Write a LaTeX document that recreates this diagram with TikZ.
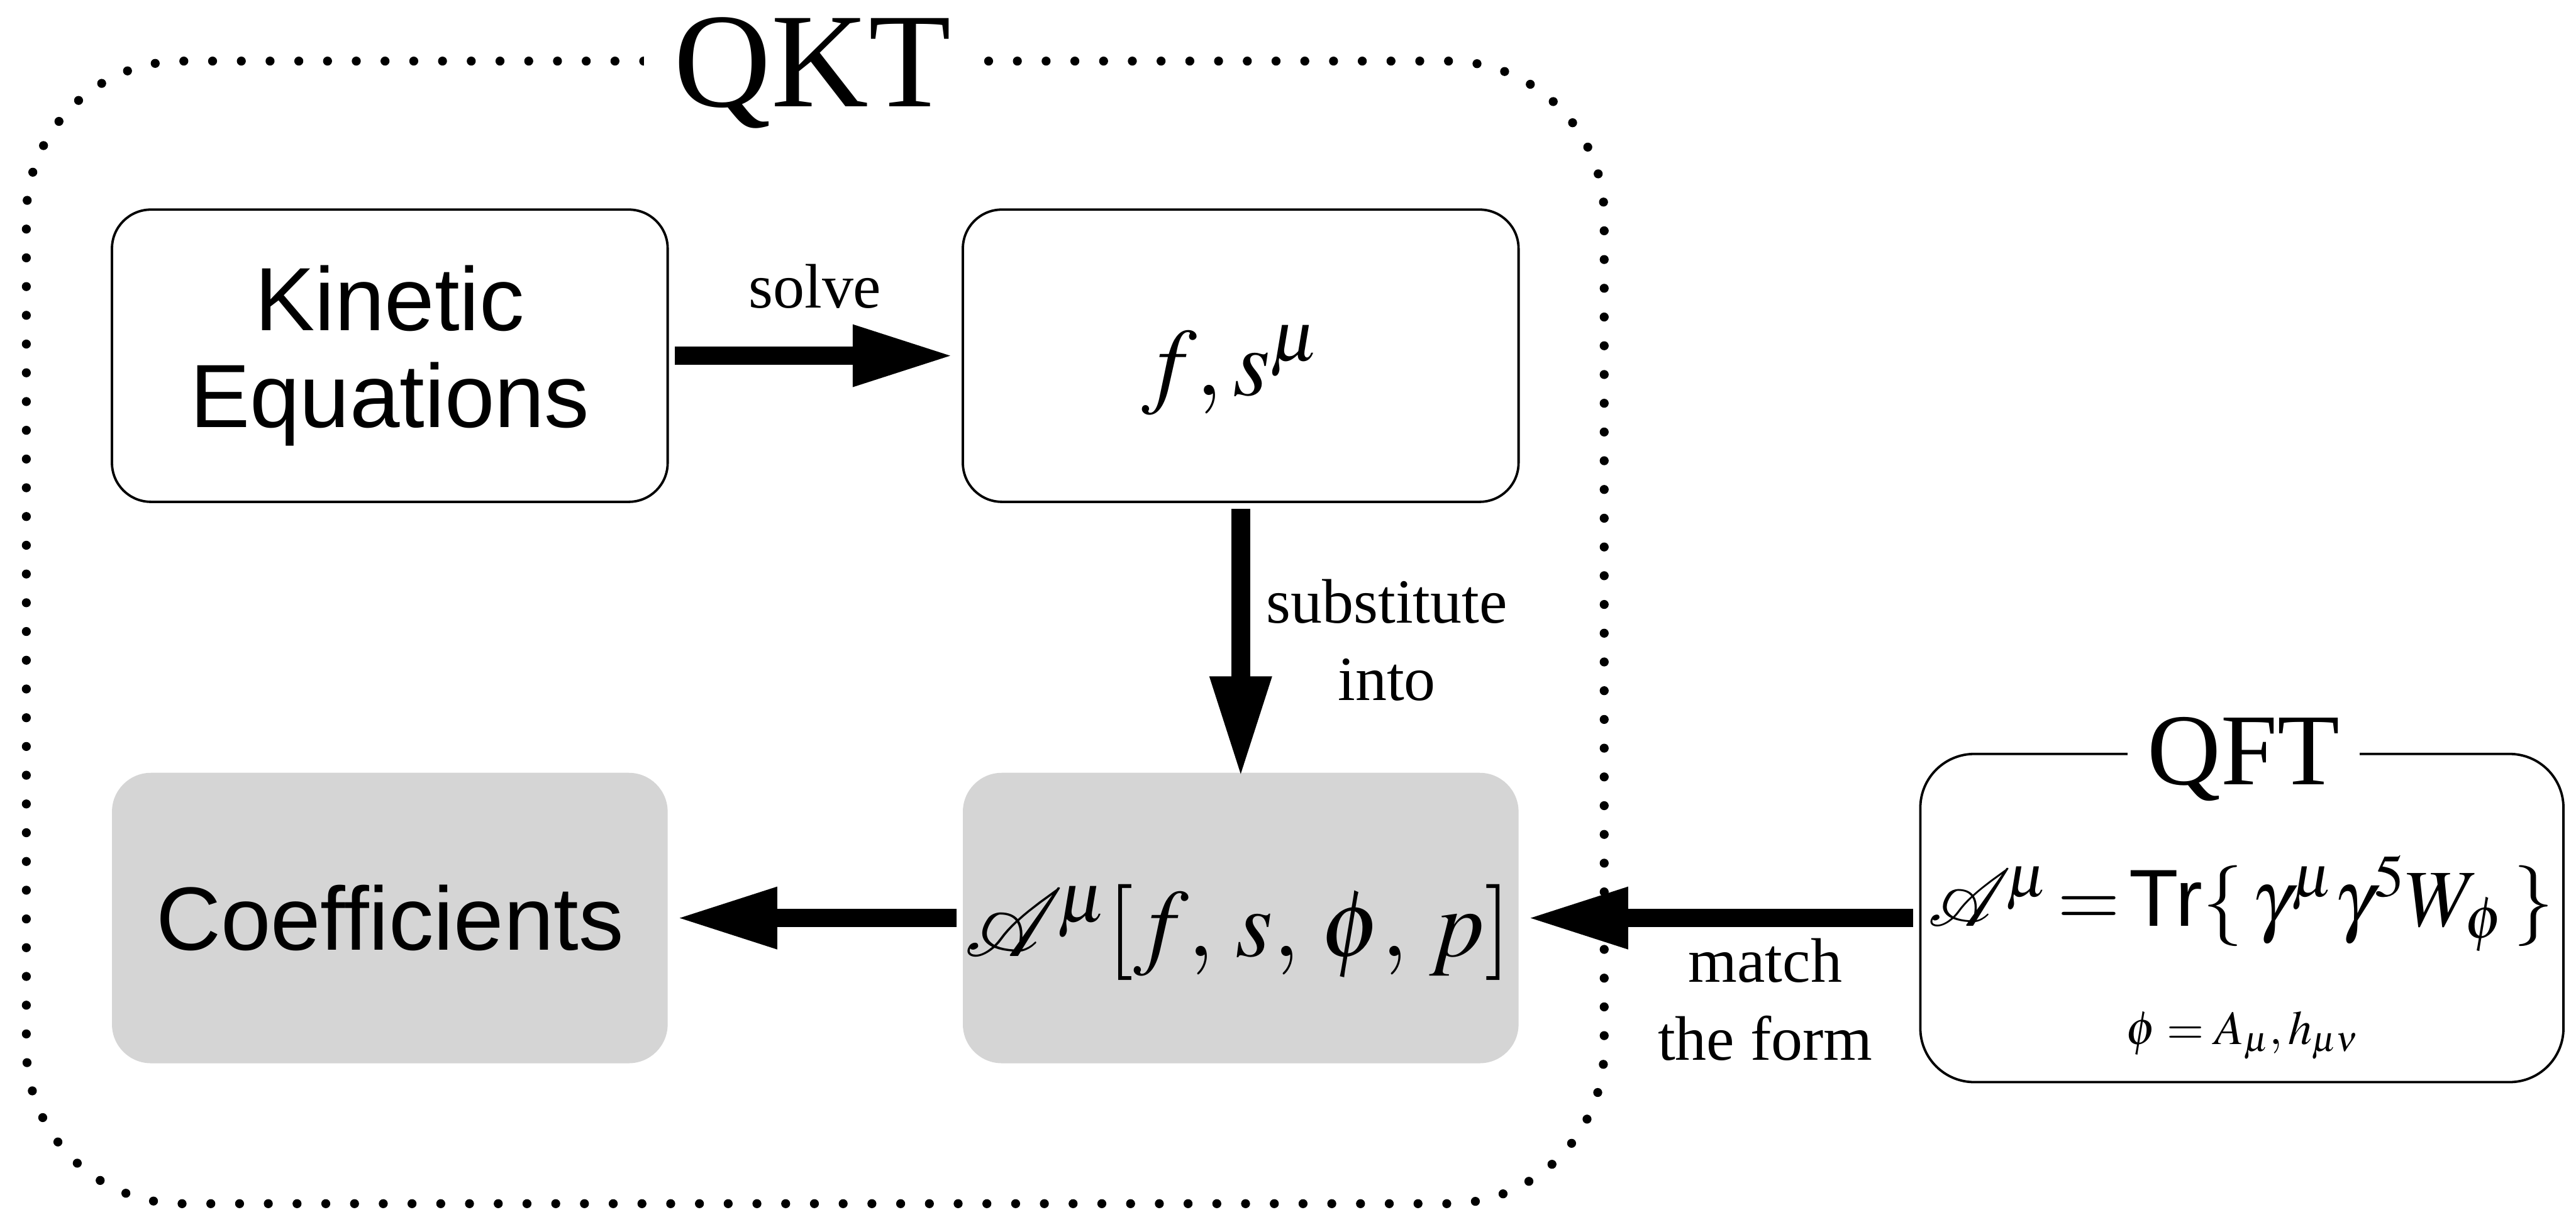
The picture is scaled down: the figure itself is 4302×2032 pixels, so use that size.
\documentclass[tikz,border=0pt]{standalone}
\usepackage{mathptmx}
\usepackage[no-math]{fontspec}
\setmainfont{Liberation Serif}
\setsansfont{Liberation Sans}
\usetikzlibrary{arrows.meta}
\DeclareFontFamily{U}{myrsfs}{\skewchar\font127 }
\DeclareFontShape{U}{myrsfs}{m}{n}{<-> rsfs10}{}
\newcommand{\scrA}{\mbox{\usefont{U}{myrsfs}{m}{n}A}\mkern3mu}
\definecolor{boxgray}{RGB}{213,213,213}
\tikzset{
  plainbox/.style={draw, line width=0.8pt, rounded corners=13pt, minimum width=185.6pt, minimum height=97.6pt, inner sep=0pt, align=center},
  graybox/.style={fill=boxgray, rounded corners=13pt, minimum width=185.6pt, minimum height=97pt, inner sep=0pt, align=center},
  qftbox/.style={draw, line width=0.8pt, rounded corners=18pt, minimum width=214.8pt, minimum height=109.6pt, inner sep=0pt},
  dotbox/.style={draw, line width=3pt, dash pattern=on 0pt off 9.6pt, line cap=round, rounded corners=52pt, inner sep=0pt},
  sanstext/.style={font=\sffamily\fontsize{30}{32.2}\selectfont},
  mathtext/.style={inner sep=0pt, anchor=base, font=\fontsize{32}{38}\selectfont},
  lab/.style={inner sep=0pt, align=center, font=\fontsize{21}{26}\selectfont},
  arr/.style={line width=6.2pt, -{Triangle[length=34pt, width=19pt]}, shorten <=2pt, shorten >=2.4pt},
}
\begin{document}
\begin{tikzpicture}[x=0.2pt, y=-0.2pt]
\useasboundingbox (0,0) rectangle (4302,2032);

% QKT container
\node[dotbox, minimum width=527pt, minimum height=381.6pt] (qktbox) at (1361.5,1056) {};
\node[fill=white, inner xsep=10pt, inner ysep=0pt, anchor=base, font=\fontsize{45}{54}\selectfont] (qkt) at (1357,178) {QKT};

% boxes
\node[plainbox, sanstext] (kin) at (651,594) {Kinetic\\Equations};
\node[plainbox] (fs) at (2072,594) {};
\node[graybox, sanstext] (coef) at (651,1533) {Coefficients};
\node[graybox] (amu) at (2072,1533) {};
\node[qftbox] (qft) at (3744,1533) {};
\node[fill=white, inner xsep=6.6pt, inner ysep=0pt, anchor=base, font=\fontsize{34}{40}\selectfont] (qftlab) at (3747,1310) {QFT};

% math contents
\node[mathtext] (fstext) at (2056,660) {$f, s^{\mu}$};
\node[mathtext, font=\fontsize{32}{38}\selectfont] (amutext) at (2067,1597) {$\scrA^{\mu}[f,\, s,\, \phi,\, p]$};
\node[mathtext, font=\fontsize{27}{32}\selectfont] (qfteq) at (3742,1546) {$\scrA^{\mu}\! = \!\textsf{Tr}\{\,\gamma^{\mu}\gamma^{5}W_{\phi}\,\}$};
\node[mathtext, font=\fontsize{16}{19}\selectfont] (qftphi) at (3745,1744) {$\phi = A_{\mu}, h_{\mu\nu}$};

% connectors
\draw[arr] (kin.east) -- (fs.west);
\draw[arr, shorten >=-2pt] (fs.south) -- (amu.north);
\draw[arr] (amu.west) -- (coef.east);
\draw[arr] (qft.west) -- (amu.east);

% connector labels
\node[lab, anchor=base] (lsolve) at (1361,514) {solve};
\node[lab, anchor=north] (lsub) at (2316,966) {substitute\\into};
\node[lab, anchor=north] (lmatch) at (2948,1566) {match\\the form};
\end{tikzpicture}
\end{document}
